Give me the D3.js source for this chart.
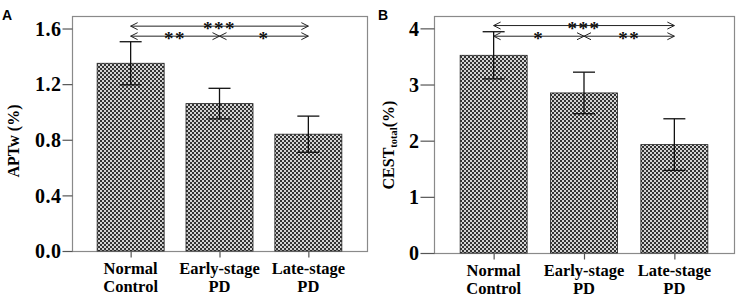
<!DOCTYPE html>
<html lang="en">
  <head>
    <meta charset="utf-8">
    <title>APTw and CEST total by group</title>
    <script type="text/javascript" src="https://d3js.org/d3.v7.min.js"></script>
    <style>
      body { margin: 0; background: #fff; }
      svg { display: block; }
      .tick text { font-family: "Liberation Serif", "Times New Roman", serif; font-weight: bold; }
    </style>
  </head>
  <body>
    <script type="text/javascript">
      var w = 737;
      var h = 298;

      // data
      var groups = ["Normal Control", "Early-stage PD", "Late-stage PD"];
      var groupLines = [["Normal", "Control"], ["Early-stage", "PD"], ["Late-stage", "PD"]];

      var aptwMean = [1.35, 1.06, 0.84];
      var aptwErr = [0.155, 0.11, 0.13];
      var aptwTicks = [0, 0.4, 0.8, 1.2, 1.6];
      // [from, to, stars, level]
      var aptwSig = [[0, 2, "***", 1.617], [0, 1, "**", 1.545], [1, 2, "*", 1.545]];

      var cestMean = [3.52, 2.85, 1.93];
      var cestErr = [0.42, 0.37, 0.46];
      var cestTicks = [0, 1, 2, 3, 4];
      var cestSig = [[0, 2, "***", 4.05], [0, 1, "*", 3.86], [1, 2, "**", 3.86]];

      var serif = "'Liberation Serif', 'Times New Roman', serif";

      var svg = d3.select("body")
        .append("svg")
        .attr("width", w)
        .attr("height", h);

      // checkerboard fill
      var pat = svg.append("defs").append("pattern")
        .attr("id", "checker")
        .attr("width", 4).attr("height", 4)
        .attr("patternUnits", "userSpaceOnUse");
      pat.append("rect").attr("width", 4).attr("height", 4).attr("fill", "#d4d4d4");
      pat.append("rect").attr("width", 2).attr("height", 2).attr("fill", "#333");
      pat.append("rect").attr("x", 2).attr("y", 2).attr("width", 2).attr("height", 2).attr("fill", "#333");

      function panel(opt) {
        var g = svg.append("g");

        var x = d3.scalePoint()
            .domain(groups)
            .range([opt.left, opt.right])
            .padding(0.66);
        var y = d3.scaleLinear()
            .domain([0, opt.ymax])
            .range([opt.bottom, opt.top]);

        // frame
        g.append("rect")
            .attr("x", opt.left + 0.5)
            .attr("y", opt.top + 0.5)
            .attr("width", opt.right - opt.left)
            .attr("height", opt.bottom - opt.top)
            .attr("fill", "none")
            .attr("stroke", "#8a8a8a")
            .attr("stroke-width", 1.2);

        // bars
        var bw = 67;
        g.selectAll("rect.bar")
            .data(opt.mean)
            .enter()
            .append("rect")
            .attr("class", "bar")
            .attr("x", function(d, i) { return x(groups[i]) - bw / 2; })
            .attr("y", function(d) { return y(d); })
            .attr("width", bw)
            .attr("height", function(d) { return y(0) - y(d); })
            .attr("fill", "url(#checker)")
            .attr("stroke", "#222")
            .attr("stroke-width", 0.8);

        // error bars
        var cap = 11;
        var eb = g.selectAll("g.err")
            .data(opt.mean)
            .enter()
            .append("g")
            .attr("class", "err")
            .attr("stroke", "#111")
            .attr("stroke-width", 1.3);
        eb.append("line")
            .attr("x1", function(d, i) { return x(groups[i]); })
            .attr("x2", function(d, i) { return x(groups[i]); })
            .attr("y1", function(d, i) { return y(d - opt.err[i]); })
            .attr("y2", function(d, i) { return y(d + opt.err[i]); });
        eb.append("line")
            .attr("x1", function(d, i) { return x(groups[i]) - cap; })
            .attr("x2", function(d, i) { return x(groups[i]) + cap; })
            .attr("y1", function(d, i) { return y(d + opt.err[i]); })
            .attr("y2", function(d, i) { return y(d + opt.err[i]); });
        eb.append("line")
            .attr("x1", function(d, i) { return x(groups[i]) - cap; })
            .attr("x2", function(d, i) { return x(groups[i]) + cap; })
            .attr("y1", function(d, i) { return y(d - opt.err[i]); })
            .attr("y2", function(d, i) { return y(d - opt.err[i]); });

        // y axis
        var yAxis = d3.axisLeft(y)
            .tickValues(opt.ticks)
            .tickFormat(opt.fmt)
            .tickSize(opt.tickLen)
            .tickPadding(1);
        var ya = g.append("g")
            .attr("transform", "translate(" + (opt.left + 0.5) + ",0)")
            .call(yAxis);
        ya.select(".domain").remove();
        ya.selectAll(".tick line").attr("stroke", "#555").attr("stroke-width", 1.2);
        ya.selectAll(".tick text")
            .attr("font-size", 20)
            .attr("letter-spacing", 0.5)
            .attr("dy", "0.34em")
            .attr("fill", "#000");

        // x axis
        var xAxis = d3.axisBottom(x).tickSize(6).tickFormat("");
        var xa = g.append("g")
            .attr("transform", "translate(0," + (opt.bottom + 0.5) + ")")
            .call(xAxis);
        xa.select(".domain").remove();
        xa.selectAll(".tick line").attr("stroke", "#555").attr("stroke-width", 1.2);

        var lab = g.selectAll("text.xlab")
            .data(groups)
            .enter()
            .append("text")
            .attr("class", "xlab")
            .attr("text-anchor", "middle")
            .attr("font-family", serif)
            .attr("font-weight", "bold")
            .attr("font-size", 16.5)
            .attr("fill", "#000");
        lab.selectAll("tspan")
            .data(function(d, i) { return groupLines[i]; })
            .enter()
            .append("tspan")
            .attr("x", function(d, j, nodes) { return x(d3.select(nodes[j].parentNode).datum()); })
            .attr("y", function(d, j) { return opt.bottom + 23 + j * 17.7; })
            .text(function(d) { return d; });

        // significance arrows
        var sig = g.selectAll("g.sig")
            .data(opt.sig)
            .enter()
            .append("g")
            .attr("class", "sig");
        sig.append("path")
            .attr("fill", "none")
            .attr("stroke", "#222")
            .attr("stroke-width", 1)
            .attr("d", function(d) {
              var x1 = x(groups[d[0]]), x2 = x(groups[d[1]]), yy = y(d[3]);
              return "M" + x1 + "," + yy + "H" + x2 +
                "M" + (x1 + 7) + "," + (yy - 3.5) + "L" + x1 + "," + yy + "L" + (x1 + 7) + "," + (yy + 3.5) +
                "M" + (x2 - 7) + "," + (yy - 3.5) + "L" + x2 + "," + yy + "L" + (x2 - 7) + "," + (yy + 3.5);
            });
        sig.append("text")
            .attr("x", function(d) { return (x(groups[d[0]]) + x(groups[d[1]])) / 2; })
            .attr("y", function(d) { return y(d[3]) + 9; })
            .attr("text-anchor", "middle")
            .attr("font-family", serif)
            .attr("font-weight", "bold")
            .attr("font-size", 19)
            .attr("letter-spacing", 1.5)
            .attr("fill", "#111")
            .text(function(d) { return d[2]; });

        // y label
        var yl = g.append("text")
            .attr("transform", "translate(" + opt.ylabX + "," + opt.ylabY + ") rotate(-90)")
            .attr("text-anchor", "middle")
            .attr("font-family", serif)
            .attr("font-weight", "bold")
            .attr("font-size", 16)
            .attr("fill", "#000");
        opt.ylab.forEach(function(p) {
          var t = yl.append("tspan").text(p[0]);
          if (p[1]) t.attr("font-size", 10.5).attr("dy", 3);
          else if (p[2]) t.attr("dy", -3);
        });

        // panel letter
        g.append("text")
            .attr("x", opt.letterX)
            .attr("y", 20)
            .attr("font-family", "'Liberation Sans', Arial, sans-serif")
            .attr("font-weight", "bold")
            .attr("font-size", 14)
            .attr("fill", "#000")
            .text(opt.letter);
      }

      panel({
        left: 72, right: 367, top: 16, bottom: 251,
        ymax: 1.69, mean: aptwMean, err: aptwErr, ticks: aptwTicks,
        fmt: d3.format(".1f"), tickLen: 10, sig: aptwSig,
        ylab: [["APTw (%)"]], ylabX: 19, ylabY: 141,
        letter: "A", letterX: 2
      });

      panel({
        left: 434, right: 734, top: 16, bottom: 253,
        ymax: 4.22, mean: cestMean, err: cestErr, ticks: cestTicks,
        fmt: d3.format("d"), tickLen: 14, sig: cestSig,
        ylab: [["CEST"], ["total", true], ["(%)", false, true]], ylabX: 394, ylabY: 145,
        letter: "B", letterX: 378
      });
    </script>
  </body>
</html>
